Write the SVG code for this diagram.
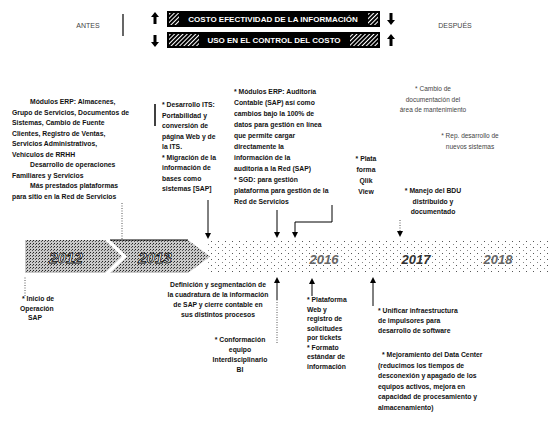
<svg xmlns="http://www.w3.org/2000/svg" width="550" height="421" viewBox="0 0 550 421">
<defs>
<pattern id="dark" width="3" height="3" patternUnits="userSpaceOnUse"><rect width="3" height="3" fill="#c8c8c8"/><rect x="0" y="0" width="1" height="1" fill="#222"/><rect x="2" y="1" width="1" height="1" fill="#555"/></pattern>
<pattern id="light" width="7" height="6" patternUnits="userSpaceOnUse"><rect width="7" height="6" fill="#fff"/><rect x="1" y="1" width="1" height="1" fill="#555"/><rect x="5" y="4" width="1" height="1" fill="#888"/></pattern>
<pattern id="hatch" width="3" height="3" patternUnits="userSpaceOnUse" patternTransform="rotate(45)"><rect width="3" height="3" fill="#000"/><rect width="1" height="3" fill="#fff"/></pattern>
<marker id="ah" markerWidth="6" markerHeight="6" refX="3" refY="3" orient="auto"><path d="M0,0 L6,3 L0,6 z" fill="#000"/></marker>
</defs>
<style>
.t{font-family:"Liberation Sans",Arial,sans-serif;font-size:6.8px;font-weight:bold;fill:#111}
.g{font-family:"Liberation Sans",Arial,sans-serif;font-size:6.5px;fill:#444}
.c{text-anchor:middle}
.h{font-family:"Liberation Sans",Arial,sans-serif;font-size:8px;font-weight:bold;fill:#fff;text-anchor:middle}
.yr{font-family:"Liberation Sans",Arial,sans-serif;font-size:15px;font-weight:bold;font-style:italic;text-anchor:middle}
.ln{stroke:#000;stroke-width:1;fill:none}
.dt{stroke:#555;stroke-width:1;stroke-dasharray:1 1.5;fill:none}
</style>

<g id="header">
<text x="88" y="28" class="g" style="font-size:7px;text-anchor:middle">ANTES</text>
<line x1="123" y1="14" x2="123" y2="36" stroke="#000" stroke-width="1.2"/>
<text x="455" y="28" class="g" style="font-size:7px;text-anchor:middle">DESPUÉS</text>
<path d="M155,12 L151,17 L153.5,17 L153.5,24 L156.5,24 L156.5,17 L159,17 z" fill="#000"/>
<rect x="167" y="11" width="213" height="16" fill="#000"/>
<rect x="169" y="13" width="10" height="12" fill="url(#hatch)"/>
<rect x="368" y="13" width="10" height="12" fill="url(#hatch)"/>
<text x="273" y="22" class="h">COSTO EFECTIVIDAD DE LA INFORMACIÓN</text>
<path d="M391,25 L387,20 L389.5,20 L389.5,13 L392.5,13 L392.5,20 L395,20 z" fill="#000"/>
<path d="M155,47 L151,42 L153.5,42 L153.5,35 L156.5,35 L156.5,42 L159,42 z" fill="#000"/>
<rect x="167" y="32" width="213" height="16" fill="#000"/>
<rect x="169" y="34" width="30" height="12" fill="url(#hatch)"/>
<rect x="350" y="34" width="28" height="12" fill="url(#hatch)"/>
<text x="274" y="43" class="h">USO EN EL CONTROL DEL COSTO</text>
<path d="M391,34 L387,39 L389.5,39 L389.5,46 L392.5,46 L392.5,39 L395,39 z" fill="#000"/>
</g>

<g id="timeline">
<rect x="205" y="240" width="345" height="33" fill="url(#light)"/>
<path d="M25,240 L105,240 L122,256.5 L105,273 L25,273 z" fill="url(#dark)"/>
<path d="M110,240 L188,240 L210,256.5 L188,273 L110,273 L127,256.5 z" fill="url(#dark)"/>
<line x1="110" y1="240" x2="188" y2="240" stroke="#000" stroke-width="1.2"/>
<text x="66" y="263" class="yr" fill="#fff" stroke="#000" stroke-width="0.8">2012</text>
<text x="155" y="263" class="yr" fill="#fff" stroke="#000" stroke-width="0.8">2013</text>
<text x="324" y="264" class="yr" fill="#666" style="font-size:13px">2016</text>
<text x="416" y="264" class="yr" fill="#333" style="font-size:13px">2017</text>
<text x="498" y="264" class="yr" fill="#666" style="font-size:13px">2018</text>
</g>

<g id="n2012">
<text class="t"><tspan x="30" y="104">Módulos ERP: Almacenes,</tspan><tspan x="12" y="114.5">Grupo de Servicios, Documentos de</tspan><tspan x="12" y="125">Sistemas, Cambio de Fuente</tspan><tspan x="12" y="135.5">Clientes, Registro de Ventas,</tspan><tspan x="12" y="146">Servicios Administrativos,</tspan><tspan x="12" y="156.5">Vehículos de RRHH</tspan><tspan x="30" y="167">Desarrollo de operaciones</tspan><tspan x="12" y="177.5">Familiares y Servicios</tspan><tspan x="30" y="188">Más prestados plataformas</tspan><tspan x="12" y="198.5">para sitio en la Red de Servicios</tspan></text>
</g>

<g id="n2013">
<line x1="155" y1="104" x2="155" y2="126" stroke="#000" stroke-width="1.5"/>
<text class="t"><tspan x="162" y="107">* Desarrollo ITS:</tspan><tspan x="162" y="117.5">Portabilidad y</tspan><tspan x="162" y="128">conversión de</tspan><tspan x="162" y="138.5">página Web y de</tspan><tspan x="162" y="149">la ITS.</tspan><tspan x="162" y="159.5">* Migración de la</tspan><tspan x="162" y="170">información de</tspan><tspan x="162" y="180.5">bases como</tspan><tspan x="162" y="191">sistemas [SAP]</tspan></text>
</g>

<g id="n2014">
<text class="t"><tspan x="234" y="94">* Módulos ERP: Auditoría</tspan><tspan x="234" y="105">Contable (SAP) así como</tspan><tspan x="234" y="116">cambios bajo la 100% de</tspan><tspan x="234" y="127">datos para gestión en línea</tspan><tspan x="234" y="138">que permite cargar</tspan><tspan x="234" y="149">directamente la</tspan><tspan x="234" y="160">información de la</tspan><tspan x="234" y="171">auditoría a la Red (SAP)</tspan><tspan x="234" y="182">* SGD: para gestión</tspan><tspan x="234" y="193">plataforma para gestión de la</tspan><tspan x="234" y="204">Red de Servicios</tspan></text>
</g>

<g id="nCambio">
<text class="g c"><tspan x="433" y="91">* Cambio de</tspan><tspan x="433" y="101.5">documentación del</tspan><tspan x="433" y="112">área de mantenimiento</tspan></text>
</g>
<g id="nRep">
<text class="g c"><tspan x="470" y="138">* Rep. desarrollo de</tspan><tspan x="470" y="148.5">nuevos sistemas</tspan></text>
</g>
<g id="nQlik">
<text class="t c"><tspan x="366" y="161">* Plata</tspan><tspan x="366" y="172">forma</tspan><tspan x="366" y="183">Qlik</tspan><tspan x="366" y="194">View</tspan></text>
</g>
<g id="nBDU">
<text class="t c"><tspan x="433" y="193">* Manejo del BDU</tspan><tspan x="433" y="203.5">distribuido y</tspan><tspan x="433" y="214">documentado</tspan></text>
</g>

<g id="nInicio">
<text class="t"><tspan x="22" y="301">* Inicio de</tspan><tspan x="20" y="310.5">Operación</tspan><tspan x="28" y="320">SAP</tspan></text>
</g>
<g id="nDefinicion">
<text class="t c"><tspan x="218" y="287">Definición y segmentación de</tspan><tspan x="218" y="297">la cuadratura de la información</tspan><tspan x="218" y="307">de SAP y cierre contable en</tspan><tspan x="218" y="317">sus distintos procesos</tspan></text>
</g>
<g id="nConformacion">
<text class="t c"><tspan x="240" y="342">* Conformación</tspan><tspan x="240" y="352">equipo</tspan><tspan x="240" y="362">Interdisciplinario</tspan><tspan x="240" y="372">BI</tspan></text>
</g>
<g id="nPlataforma">
<text class="t"><tspan x="307" y="302">* Plataforma</tspan><tspan x="307" y="311.5">Web y</tspan><tspan x="307" y="321">registro de</tspan><tspan x="307" y="330.5">solicitudes</tspan><tspan x="307" y="340">por tickets</tspan><tspan x="307" y="349.5">* Formato</tspan><tspan x="307" y="359">estándar de</tspan><tspan x="307" y="368.5">información</tspan></text>
</g>
<g id="nUnificar">
<text class="t"><tspan x="378" y="313">* Unificar infraestructura</tspan><tspan x="378" y="323">de impulsores para</tspan><tspan x="378" y="333">desarrollo de software</tspan></text>
</g>
<g id="nMejora">
<text class="t"><tspan x="382" y="357">* Mejoramiento del Data Center</tspan><tspan x="378" y="367.5">(reducimos los tiempos de</tspan><tspan x="378" y="378">desconexión y apagado de los</tspan><tspan x="378" y="388.5">equipos activos, mejora en</tspan><tspan x="378" y="399">capacidad de procesamiento y</tspan><tspan x="378" y="409.5">almacenamiento)</tspan></text>
</g>

<g id="connectors">
<line x1="122" y1="203" x2="122" y2="240" class="dt"/>
<line x1="208" y1="200" x2="208" y2="236" class="ln" marker-end="url(#ah)"/>
<line x1="277" y1="210" x2="277" y2="235" class="ln" marker-end="url(#ah)"/>
<path d="M332,205 L332,222 L295,222 L295,235" class="ln" marker-end="url(#ah)"/>
<line x1="400" y1="220" x2="400" y2="234" class="dt" marker-end="url(#ah)"/>
<line x1="25" y1="296" x2="25" y2="276" class="dt"/>
<line x1="277" y1="343" x2="277" y2="300" class="dt"/>
<line x1="277" y1="300" x2="277" y2="280" class="ln" marker-end="url(#ah)"/>
<line x1="312" y1="296" x2="312" y2="281" class="ln" marker-end="url(#ah)"/>
<line x1="373" y1="306" x2="373" y2="280" class="ln" marker-end="url(#ah)"/>
</g>
</svg>
